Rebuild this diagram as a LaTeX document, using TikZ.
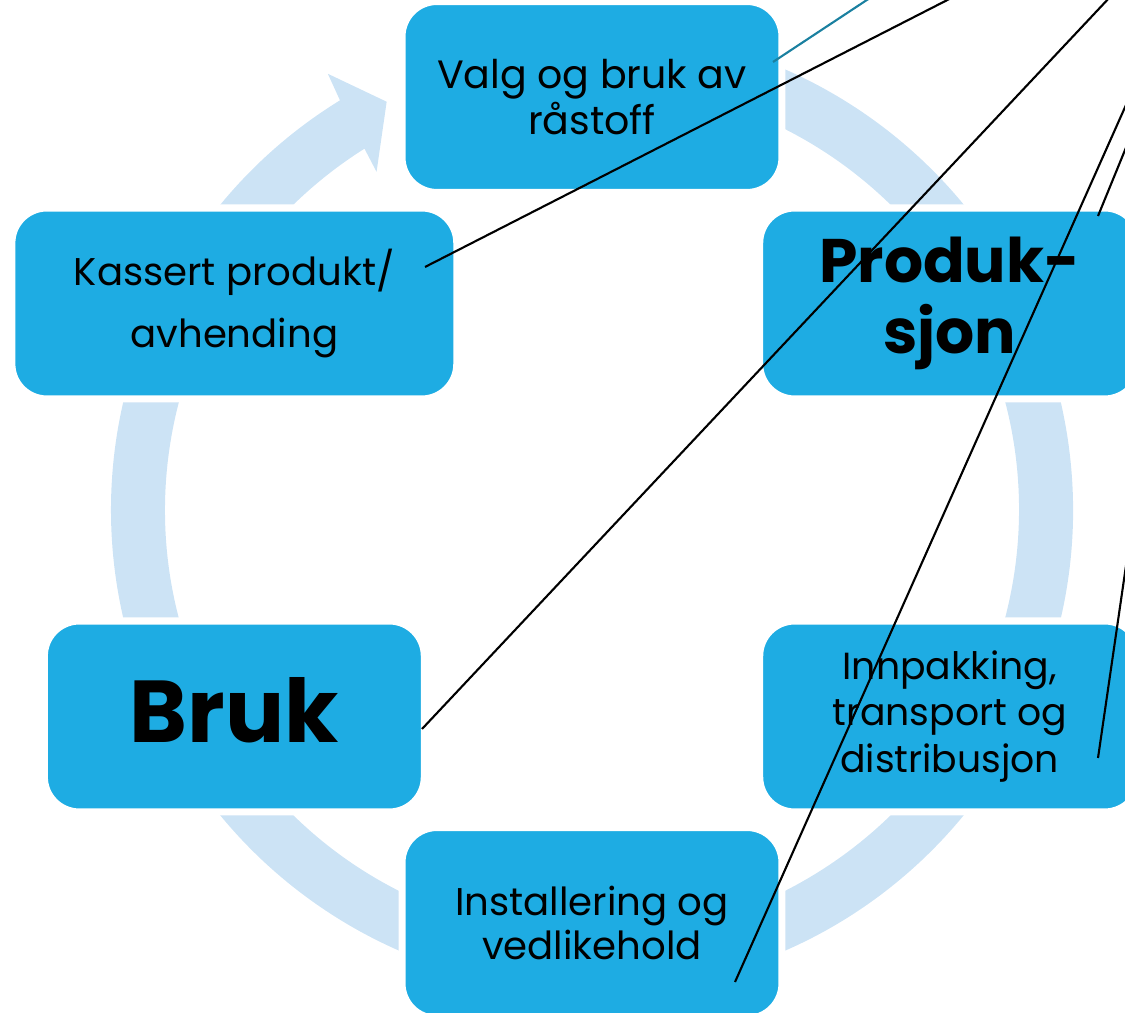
\documentclass[tikz,border=0pt]{standalone}
\usepackage{fontspec}
\setmainfont{Poppins}
\usetikzlibrary{calc}
\definecolor{stageblue}{RGB}{30,172,227}
\definecolor{ringblue}{RGB}{204,227,245}
\definecolor{leadteal}{RGB}{26,128,160}
\begin{document}
\begin{tikzpicture}[x=0.02cm,y=0.02cm,
	stage/.style={draw=white,line width=4pt,fill=stageblue,rounded corners=0.7cm,minimum width=7.6cm,minimum height=3.82cm,align=center,inner sep=0pt},
	lead/.style={line width=1.2pt}]
	\def\orbit{413}
	\useasboundingbox (0,0) rectangle (1125,1013);
	\clip (0,0) rectangle (1125,1013);
	\coordinate (c) at (592,503);
	% ring with the head at the top left
	\fill[ringblue,shift={(c)}] (100:481) arc[start angle=100,end angle=-238.4,radius=481]
		-- (121.2:510) -- (116.7:457) -- (122.5:401) -- (122.2:427)
		arc[start angle=-237.8,end angle=100,radius=427] -- cycle;
	% stages
	\node[stage,font=\fontsize{22.5}{26}\selectfont] (valg) at ($(c)+(90:\orbit)$) {Valg og bruk av\\råstoff};
	\node[stage,font=\fontsize{35}{40}\selectfont\bfseries] (produksjon) at ($(c)+(30:\orbit)$) {Produk-\\sjon};
	\node[stage,font=\fontsize{21.5}{26.6}\selectfont] (innpakking) at ($(c)+(-30:\orbit)$) {Innpakking,\\transport og\\distribusjon};
	\node[stage,font=\fontsize{22}{25.5}\selectfont] (installering) at ($(c)+(-90:\orbit)$) {Installering og\\vedlikehold};
	\node[stage,font=\fontsize{50}{56}\selectfont\bfseries] (bruk) at ($(c)+(-150:\orbit)$) {\raisebox{0.24cm}{Bruk}};
	\node[stage,minimum width=8.9cm,font=\fontsize{22}{35.7}\selectfont] (kassert) at ($(c)+(150:\orbit)$) {Kassert produkt/\\avhending};
	% leader lines
	\coordinate (valg pin) at (773,951);
	\coordinate (valg far) at (1100,1167);
	\coordinate (kassert pin) at (425,746);
	\coordinate (kassert far) at (1100,1091);
	\coordinate (bruk pin) at (422,284);
	\coordinate (bruk far) at (1189,1100);
	\coordinate (installering pin) at (735,31);
	\coordinate (installering far) at (1200,1074);
	\coordinate (produksjon pin) at (1098,797);
	\coordinate (produksjon far) at (1222,1100);
	\coordinate (innpakking pin) at (1098,255);
	\coordinate (innpakking far) at (1221,1100);
	\draw[lead,leadteal] (valg pin) -- (valg far);
	\foreach \s in {kassert,bruk,installering,produksjon,innpakking}
		\draw[lead] (\s\space pin) -- (\s\space far);
\end{tikzpicture}
\end{document}
